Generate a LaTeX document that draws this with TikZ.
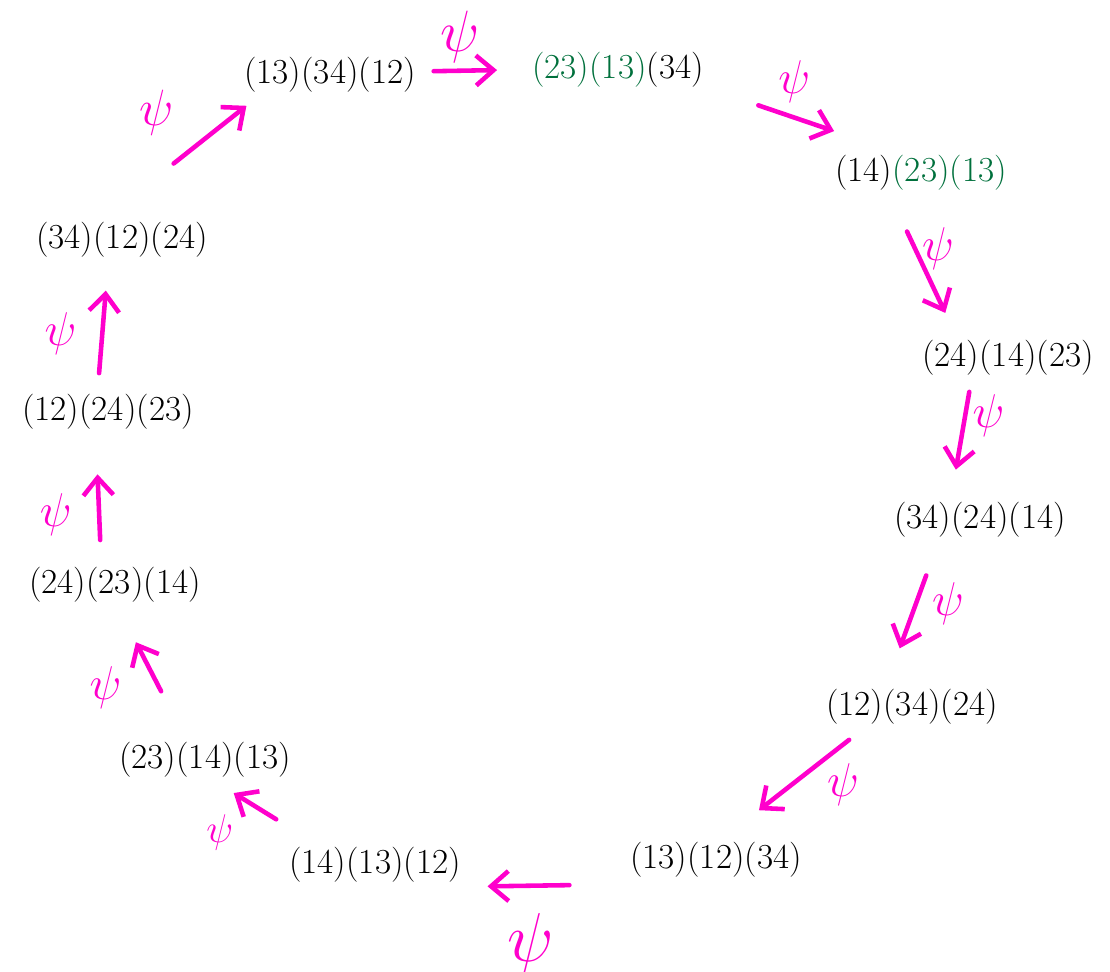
\documentclass[tikz,border=0pt]{standalone}
\usepackage{tikz}
\usetikzlibrary{arrows.meta, calc}
\usepackage{xcolor}
\definecolor{PsiMagenta}{RGB}{255, 0, 204}
\definecolor{PermGreen}{RGB}{0, 112, 60}
\definecolor{PermBlack}{RGB}{0, 0, 0}

\begin{document}
\begin{tikzpicture}[x=0.02cm, y=-0.02cm,
    perm/.style={inner sep=0pt, font=\fontsize{20}{22}\selectfont, text=PermBlack},
    psiarrow/.style={-{Straight Barb[length=3.5mm, width=6mm]}, line width=2.6pt, PsiMagenta, line cap=round},
    psilabel/.style={inner sep=0pt, text=PsiMagenta, font=\fontsize{20}{20}\selectfont}]

    \useasboundingbox (0,0) rectangle (1110,972);

    % Permutation words around the cycle
    \node[perm] (P1)  at (330, 75)  {(13)(34)(12)};
    \node[perm] (P2)  at (618, 70)  {\textcolor{PermGreen}{(23)(13)}(34)};
    \node[perm] (P3)  at (921, 173) {(14)\textcolor{PermGreen}{(23)(13)}};
    \node[perm] (P4)  at (1008, 358) {(24)(14)(23)};
    \node[perm] (P5)  at (980, 520) {(34)(24)(14)};
    \node[perm] (P6)  at (912, 707) {(12)(34)(24)};
    \node[perm] (P7)  at (716, 860) {(13)(12)(34)};
    \node[perm] (P8)  at (375, 865) {(14)(13)(12)};
    \node[perm] (P9)  at (205, 760) {(23)(14)(13)};
    \node[perm] (P10) at (115, 585) {(24)(23)(14)};
    \node[perm] (P11) at (108, 412) {(12)(24)(23)};
    \node[perm] (P12) at (122, 240) {(34)(12)(24)};

    % psi arrows: from/to/start/end/offset/label offset/label scale
    \foreach \a/\b/\s/\e/\dx/\dy/\lx/\ly/\sc in {
        P1/P2/0.36/0.58/0/-2/-5/-34/1.6,
        P2/P3/0.45/0.70/4/-11/-2/-37/1.3,
        P3/P4/0.23/0.67/-34/16/12/-24/1.3,
        P4/P5/0.24/0.72/-32/-5/26/-15/1.3,
        P5/P6/0.35/0.74/-30/-10/35/-8/1.3,
        P6/P7/0.28/0.74/-8/-10/39/10/1.3,
        P7/P8/0.43/0.67/0/23/2/58/1.9,
        P8/P9/0.54/0.79/-7/11/-35/26/1.1,
        P9/P10/0.41/0.69/-7/3/-43/21/1.3,
        P10/P11/0.26/0.64/-13/0/-43/8/1.3,
        P11/P12/0.22/0.70/-12/-1/-42/2/1.3,
        P12/P1/0.33/0.68/-17/-22/-53/-22/1.4}{
        \draw[psiarrow] ($(\a)!\s!(\b)+(\dx,\dy)$) -- node[psilabel, scale=\sc, shift={(\lx/\sc,\ly/\sc)}] {$\psi$} ($(\a)!\e!(\b)+(\dx,\dy)$);
    }

\end{tikzpicture}
\end{document}
